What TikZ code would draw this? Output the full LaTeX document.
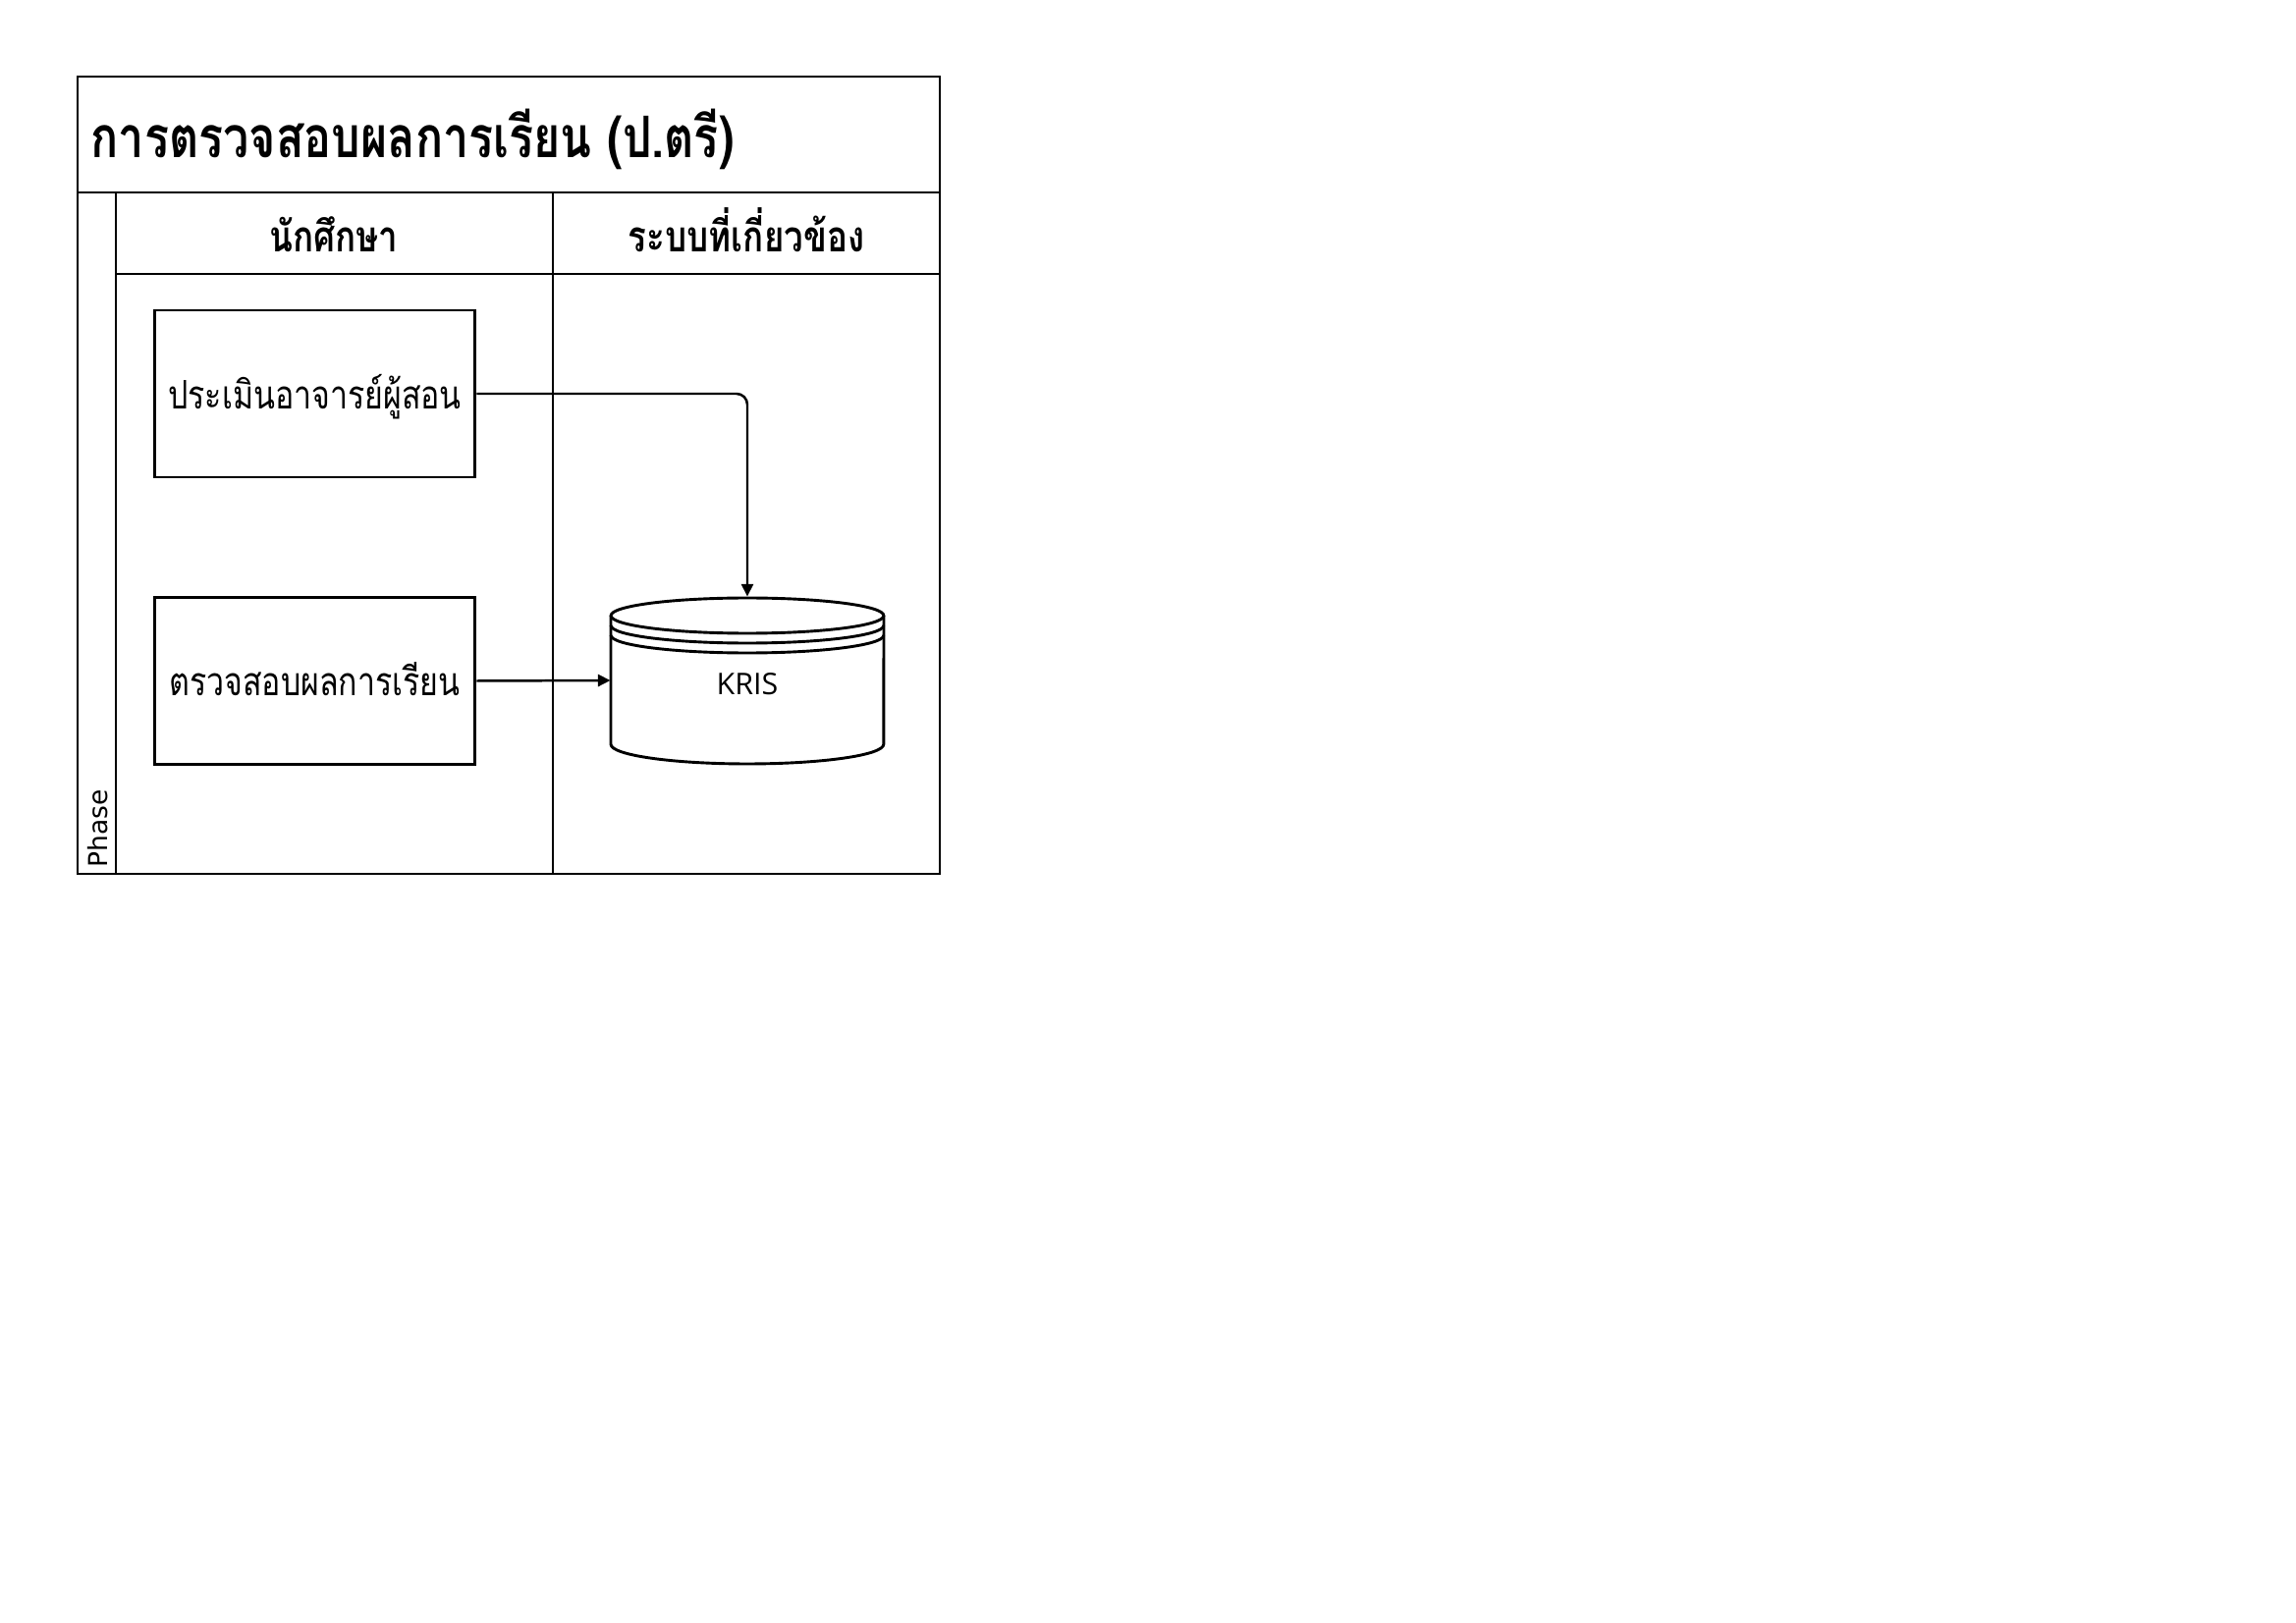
\documentclass[tikz,border=0pt]{standalone}
\usepackage{fontspec}
\setmainfont{DejaVu Sans}
\newfontfamily\thaifont[Script=Thai,FakeStretch=0.8]{Loma}
\newfontfamily\krisfont{Open Sans}
\usetikzlibrary{arrows.meta}
\begin{document}
\begin{tikzpicture}[x=0.012703cm,y=-0.012703cm,
  frame/.style={line width=0.85pt},
  procbox/.style={draw,line width=1.05pt,minimum width=4.154cm,minimum height=2.16cm,inner sep=0pt,
    text height=12.5pt,text depth=1.5pt,font=\thaifont\fontsize{14.5}{16}\selectfont},
  lanehead/.style={font=\thaifont\bfseries\fontsize{15.8}{18}\selectfont,inner sep=0pt,anchor=base},
  cyl/.style={line width=1.05pt},
  flow/.style={line width=0.9pt,-{Triangle[length=4.6pt,width=4.4pt]}}]
\useasboundingbox (0,0) rectangle (2338,1653);
% frame
\draw[frame] (79,78) rectangle (957,890);
\draw[frame] (79,196) -- (957,196);
\draw[frame] (118,279) -- (957,279);
\draw[frame] (118,196) -- (118,890);
\draw[frame] (563,196) -- (563,890);
% title and headers
\node[anchor=base west,inner sep=0pt,font=\thaifont\bfseries\fontsize{21.1}{25}\selectfont] (title) at (92,161) {การตรวจสอบผลการเรียน (ป.ตรี)};
\node[lanehead] (h1) at (340,257) {นักศึกษา};
\node[lanehead] (h2) at (760,257) {ระบบที่เกี่ยวข้อง};
\node[rotate=90,anchor=west,inner sep=0pt,font=\fontsize{9.6}{11}\selectfont] (phase) at (100,884) {Phase};
% process boxes
\node[procbox] (b1) at (320.5,401) {ประเมินอาจารย์ผู้สอน};
\node[procbox] (b2) at (320.5,693.5) {ตรวจสอบผลการเรียน};
% database
\node[minimum width=3.531cm,minimum height=2.16cm,inner sep=0pt,text height=10.8pt,text depth=0pt,
  font=\krisfont\fontsize{11}{13}\selectfont] (db) at (761,693) {KRIS};
\draw[cyl] (761,627) ellipse [x radius=1.7657cm,y radius=0.2287cm];
\draw[cyl] (622,637) arc[start angle=180,end angle=360,x radius=1.7657cm,y radius=0.2287cm];
\draw[cyl] (622,647) arc[start angle=180,end angle=360,x radius=1.7657cm,y radius=0.2287cm];
\draw[cyl] (622,627) -- (622,758) arc[start angle=180,end angle=360,x radius=1.7657cm,y radius=0.254cm] -- (900,627);
% connectors
\draw[flow,rounded corners=4pt] (b1.east) -| (db.north);
\draw[flow] (b2.east) -- (db.west);
\end{tikzpicture}
\end{document}
